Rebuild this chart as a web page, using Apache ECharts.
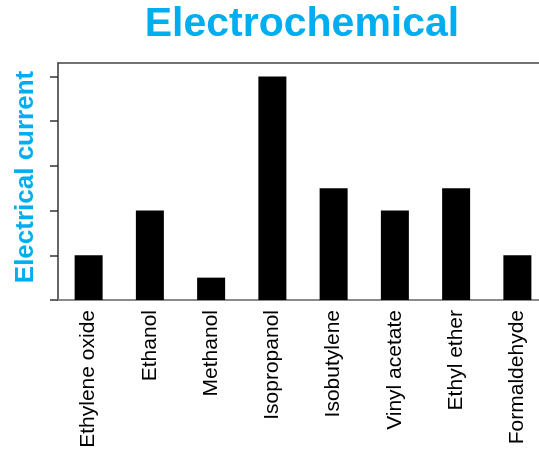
<!DOCTYPE html>
<html>
<head>
<meta charset="utf-8">
<script src="https://cdn.jsdelivr.net/npm/echarts@6/dist/echarts.min.js"></script>
<style>
html,body{margin:0;padding:0;background:#fff;}
#c{width:539px;height:454px;}
</style>
</head>
<body>
<div id="c"></div>
<script>
var categories = ["Ethylene oxide","Ethanol","Methanol","Isopropanol","Isobutylene","Vinyl acetate","Ethyl ether","Formaldehyde"];
var currentValues = [1, 2, 0.5, 5, 2.5, 2, 2.5, 1];
var yTickValues = [0, 1, 2, 3, 4, 5];
var titleText = "Electrochemical";
var yAxisTitle = "Electrical current";

var cyan = "#00AEEF";
var chart = echarts.init(document.getElementById('c'), null, {renderer: 'canvas'});
chart.setOption({
  animation: false,
  backgroundColor: '#fff',
  grid: {left: 58, top: 63, width: 490, height: 237, containLabel: false, outerBoundsMode: 'none'},
  graphic: [
    {type: 'text', x: 302, y: 25, style: {text: titleText, font: 'bold 41px "Liberation Sans", Arial, sans-serif', fill: cyan, textAlign: 'center', textVerticalAlign: 'middle'}},
    {type: 'text', x: 26, y: 177, rotation: Math.PI / 2, style: {text: yAxisTitle, font: 'bold 26px "Liberation Sans", Arial, sans-serif', fill: cyan, textAlign: 'center', textVerticalAlign: 'middle'}}
  ],
  xAxis: [
    {
      type: 'category', data: categories, position: 'bottom',
      axisLine: {show: true, lineStyle: {color: '#8a8a8a', width: 2}},
      axisTick: {show: false},
      axisLabel: {rotate: 90, margin: 10, fontSize: 21, color: '#000', fontFamily: '"Liberation Sans", Arial, sans-serif', interval: 0},
      splitLine: {show: false}
    },
    {
      type: 'category', data: categories, position: 'top',
      axisLine: {show: true, lineStyle: {color: '#444', width: 1.5}},
      axisTick: {show: false}, axisLabel: {show: false}, splitLine: {show: false}
    }
  ],
  yAxis: {
    type: 'value', min: 0, max: 5.3,
    axisLine: {show: true, lineStyle: {color: '#333', width: 1.5}},
    axisTick: {show: true, length: 8, customValues: yTickValues, lineStyle: {color: '#333', width: 1.5}},
    axisLabel: {show: false},
    splitLine: {show: false}
  },
  series: [{
    type: 'bar', data: currentValues, barWidth: 28,
    itemStyle: {color: '#000'}
  }]
});
</script>
</body>
</html>
